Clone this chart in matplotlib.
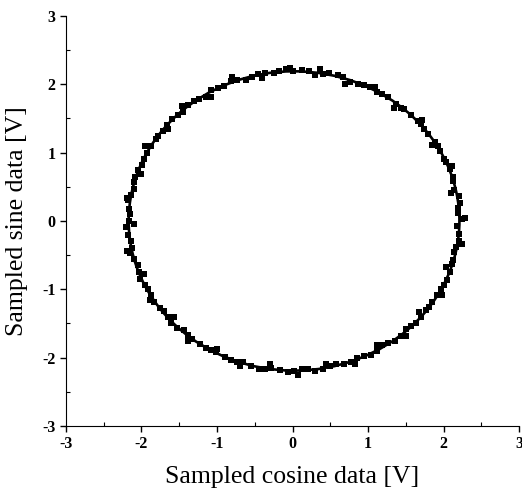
import matplotlib.pyplot as plt
from matplotlib.patches import Circle
from matplotlib.ticker import MultipleLocator

# sampled (cosine, sine) data points
cos_data = [
    2.24, 2.19, 2.20, 2.12, 2.09, 2.00, 1.93, 1.80, 1.70, 1.57, 1.43, 1.27, 1.12, 0.95, 0.76, 0.60, 0.40, 0.22,
    0.01, -0.18, -0.36, -0.54, -0.74, -0.91, -1.08, -1.24, -1.39, -1.52, -1.66, -1.78, -1.88, -1.97, -2.04, -2.10, -2.14, -2.17,
    -2.17, -2.18, -2.13, -2.10, -2.03, -1.96, -1.87, -1.76, -1.65, -1.53, -1.38, -1.23, -1.08, -0.90, -0.73, -0.55, -0.36, -0.17,
    0.02, 0.21, 0.40, 0.58, 0.77, 0.95, 1.12, 1.27, 1.43, 1.57, 1.70, 1.81, 1.91, 2.00, 2.08, 2.13, 2.17, 2.21,
    2.19, 2.22, 2.14, 2.13, 2.03, 1.95, 1.89, 1.74, 1.66, 1.48, 1.37, 1.19, 1.02, 0.87, 0.67, 0.48, 0.30, 0.12,
    -0.08, -0.25, -0.46, -0.62, -0.82, -0.99, -1.14, -1.31, -1.45, -1.60, -1.72, -1.81, -1.93, -1.99, -2.09, -2.10, -2.18, -2.15,
    -2.20, -2.14, -2.15, -2.05, -2.02, -1.91, -1.84, -1.70, -1.61, -1.44, -1.33, -1.14, -1.01, -0.81, -0.65, -0.44, -0.28, -0.06,
    0.12, 0.30, 0.50, 0.68, 0.86, 1.04, 1.19, 1.36, 1.50, 1.63, 1.77, 1.85, 1.96, 2.04, 2.11, 2.14, 2.20, 2.18,
    2.28, 2.10, 2.11, 1.85, 1.71, 1.35, 1.09, 0.70, 0.36, -0.03, -0.40, -0.80, -1.08, -1.46, -1.65, -1.96, -2.00, -2.19,
    -2.10, -2.19, -1.97, -1.89, -1.57, -1.39, -1.00, -0.70, -0.30, 0.07, 0.44, 0.83, 1.12, 1.50, 1.68, 1.98, 2.03, 2.25,
]
sin_data = [
    0.03, 0.19, 0.37, 0.58, 0.76, 0.91, 1.10, 1.27, 1.42, 1.55, 1.66, 1.81, 1.88, 1.99, 2.04, 2.13, 2.15, 2.20,
    2.20, 2.19, 2.17, 2.10, 2.06, 1.98, 1.91, 1.78, 1.69, 1.55, 1.40, 1.24, 1.10, 0.91, 0.75, 0.57, 0.38, 0.18,
    0.00, -0.20, -0.39, -0.55, -0.75, -0.93, -1.08, -1.27, -1.40, -1.56, -1.67, -1.80, -1.89, -1.99, -2.06, -2.12, -2.17, -2.18,
    -2.19, -2.17, -2.16, -2.10, -2.06, -1.98, -1.90, -1.79, -1.68, -1.54, -1.41, -1.26, -1.09, -0.93, -0.74, -0.57, -0.38, -0.19,
    0.11, 0.27, 0.45, 0.64, 0.86, 1.03, 1.16, 1.35, 1.46, 1.64, 1.71, 1.86, 1.96, 2.00, 2.10, 2.16, 2.14, 2.21,
    2.23, 2.16, 2.15, 2.06, 2.05, 1.94, 1.81, 1.75, 1.60, 1.49, 1.32, 1.20, 1.00, 0.82, 0.65, 0.47, 0.30, 0.10,
    -0.09, -0.30, -0.47, -0.64, -0.85, -1.00, -1.19, -1.32, -1.49, -1.60, -1.73, -1.86, -1.92, -2.04, -2.07, -2.16, -2.15, -2.21,
    -2.17, -2.19, -2.12, -2.10, -2.00, -1.96, -1.82, -1.76, -1.58, -1.50, -1.31, -1.19, -0.99, -0.86, -0.63, -0.46, -0.29, -0.08,
    0.05, 0.41, 0.81, 1.11, 1.48, 1.66, 1.96, 2.01, 2.22, 2.24, 2.09, 2.10, 1.81, 1.68, 1.34, 1.09, 0.68, 0.34,
    -0.05, -0.44, -0.77, -1.16, -1.40, -1.76, -1.87, -2.12, -2.10, -2.26, -2.09, -2.09, -1.81, -1.69, -1.33, -1.08, -0.68, -0.34,
]

# fitted circle
fit_center = (0.02, 0.0)
fit_radius = 2.19

plt.rcParams['font.family'] = ['Liberation Serif', 'DejaVu Serif']
plt.rcParams['axes.unicode_minus'] = False

fig = plt.figure(figsize=(5.22, 4.97), dpi=100)
ax = fig.add_axes([0.1264, 0.1429, 0.868, 0.825])

ax.plot(cos_data, sin_data, 's', color='black', markersize=3.7, markeredgewidth=0)
ax.add_patch(Circle(fit_center, fit_radius, fill=False, color='black', linewidth=1.9))

ax.set_xlim(-3, 3)
ax.set_ylim(-3, 3)
ax.xaxis.set_major_locator(MultipleLocator(1))
ax.yaxis.set_major_locator(MultipleLocator(1))
ax.xaxis.set_minor_locator(MultipleLocator(0.5))
ax.yaxis.set_minor_locator(MultipleLocator(0.5))
ax.tick_params(which='major', direction='out', length=4, width=1, labelsize=11.5)
ax.tick_params(which='minor', direction='in', length=3, width=0.8)
for lbl in ax.get_xticklabels() + ax.get_yticklabels():
    lbl.set_fontweight('bold')

ax.spines['top'].set_visible(False)
ax.spines['right'].set_visible(False)

ax.set_xlabel("Sampled cosine data [V]", fontsize=18.5, labelpad=10)
ax.set_ylabel("Sampled sine data [V]", fontsize=18.5, labelpad=10)

fig.savefig("out.png", dpi=100)
